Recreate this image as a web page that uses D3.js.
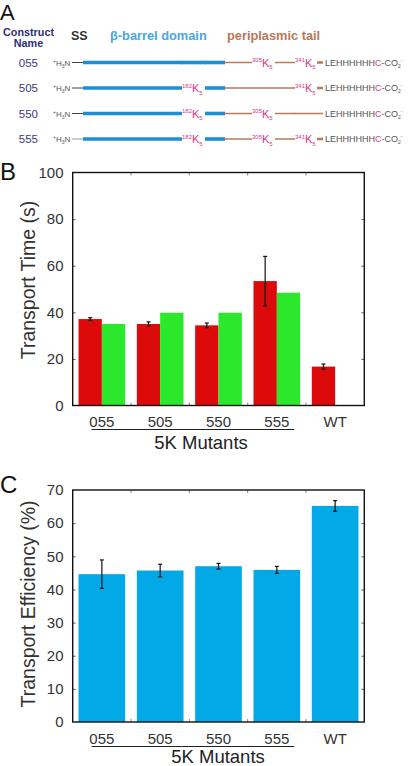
<!DOCTYPE html>
<html><head><meta charset="utf-8">
<script src="https://cdn.jsdelivr.net/npm/d3@7"></script>
<style>
html,body{margin:0;padding:0;background:#fff;}
svg{display:block;font-family:"Liberation Sans",Arial,Helvetica,sans-serif;}
</style></head>
<body>
<svg id="fig" width="408" height="766"></svg>
<script>
// ---------- DATA ----------
const constructs = ["055", "505", "550", "555"];      // digit '5' = K5 insertion at that site
const k5Sites = ["182", "305", "341"];
const tailSeq = "LEHHHHHHC";

const categories = ["055", "505", "550", "555", "WT"];
const timeRed = [37.1, 35.0, 34.4, 53.4, 16.7];
const timeRedErr = [0.6, 0.9, 1.0, 10.6, 1.1];
const timeGreen = [35.0, 39.8, 39.8, 48.4, null];
const timeTicks = [0, 20, 40, 60, 80, 100];

const efficiency = [44.6, 45.7, 47.0, 45.9, 65.2];
const efficiencyErr = [4.3, 1.9, 0.85, 1.05, 1.6];
const effTicks = [0, 10, 20, 30, 40, 50, 60, 70];

const mutantGroup = ["055", "505", "550", "555"];

// ---------- STYLE ----------
const RED = "#dc0a0a", GREEN = "#2ce82c", BLUE = "#03a9e6";
const A_BLUE = "#1d8fd8", A_BLUE_T = "#4ba6e0", BROWN = "#b9785a", PINK = "#d8378a", NAVY = "#2f2f78", GRAY = "#555";

const svg = d3.select("#fig");

// ---------- PANEL A ----------
svg.append("text").attr("x", 0).attr("y", 20).attr("font-size", 22).attr("fill", "#111").text("A");
svg.append("text").attr("x", 28.5).attr("y", 36).attr("text-anchor", "middle").attr("font-size", 10.8)
  .attr("font-weight", "bold").attr("fill", NAVY).text("Construct");
svg.append("text").attr("x", 28.5).attr("y", 47).attr("text-anchor", "middle").attr("font-size", 10.8)
  .attr("font-weight", "bold").attr("fill", NAVY).text("Name");
svg.append("text").attr("x", 71).attr("y", 40).attr("font-size", 12.5).attr("font-weight", "bold")
  .attr("fill", "#333").text("SS");
svg.append("text").attr("x", 110).attr("y", 40).attr("font-size", 12.8).attr("font-weight", "bold")
  .attr("fill", A_BLUE_T).text("β-barrel domain");
svg.append("text").attr("x", 227).attr("y", 40).attr("font-size", 12.8).attr("font-weight", "bold")
  .attr("fill", BROWN).text("periplasmic tail");

const rowY = d3.scalePoint().domain(constructs).range([62.5, 139]);
// schematic x positions (not to scale)
const sx = { start: 72, ss: 83, s182: 182, s182e: 205, tail: 225, s305: 252, s305e: 275, s341: 295, s341e: 317, end: 323, seq: 325 };
const siteStart = [sx.s182, sx.s305, sx.s341], siteEnd = [sx.s182e, sx.s305e, sx.s341e];

constructs.forEach(c => {
  const y = rowY(c);
  const g = svg.append("g");
  g.append("text").attr("x", 38).attr("y", y + 4).attr("text-anchor", "end").attr("font-size", 11.5)
    .attr("fill", "#3a3a80").text(c);
  // +H3N
  const t = g.append("text").attr("x", 53).attr("y", y + 3).attr("font-size", 8).attr("fill", GRAY);
  t.append("tspan").attr("font-size", 5).attr("dy", -3).text("+");
  t.append("tspan").attr("dy", 3).text("H");
  t.append("tspan").attr("font-size", 5).attr("dy", 2).text("3");
  t.append("tspan").attr("dy", -2).text("N");
  g.append("line").attr("x1", sx.start).attr("x2", sx.ss).attr("y1", y).attr("y2", y)
    .attr("stroke", c === "555" ? "#999" : "#444").attr("stroke-width", 1);
  // segments
  const has = c.split("").map(d => d === "5");
  const seg = (x1, x2, col, w) => g.append("line").attr("x1", x1).attr("x2", x2).attr("y1", y).attr("y2", y)
    .attr("stroke", col).attr("stroke-width", w);
  seg(sx.ss, sx.s182, A_BLUE, 3.6);
  if (!has[0]) seg(sx.s182 - 1, sx.s182e + 1, A_BLUE, 3.6);
  seg(sx.s182e, sx.tail, A_BLUE, 3.6);
  seg(sx.tail, sx.s305, BROWN, 1.5);
  if (!has[1]) seg(sx.s305 - 1, sx.s305e + 1, BROWN, 1.5);
  seg(sx.s305e, sx.s341, BROWN, 1.5);
  if (!has[2]) seg(sx.s341 - 1, sx.end, BROWN, 1.5);
  else seg(sx.s341e, sx.end, BROWN, 2.5);
  has.forEach((h, i) => {
    if (!h) return;
    const k = g.append("text").attr("x", siteStart[i]).attr("y", y + 4).attr("fill", PINK).attr("font-size", 11);
    k.append("tspan").attr("font-size", 6).attr("dy", -4.5).text(k5Sites[i]);
    k.append("tspan").attr("dy", 4.5).text("K");
    k.append("tspan").attr("font-size", 6).attr("dy", 2.5).text("5");
  });
  const s = g.append("text").attr("x", sx.seq).attr("y", y + 3.3).attr("font-size", 9).attr("fill", GRAY);
  s.append("tspan").text(tailSeq.slice(0, -1));
  s.append("tspan").attr("fill", PINK).text(tailSeq.slice(-1));
  s.append("tspan").text("-CO");
  s.append("tspan").attr("font-size", 5).attr("dy", 2).text("2");
  s.append("tspan").attr("font-size", 5).attr("dy", -6).text("-");
});

// ---------- BAR PANEL FACTORY ----------
const L = 72.7, R = 364.3;
const x = d3.scaleBand().domain(categories).range([L, R]).paddingInner(0.2).paddingOuter(0.1);

function framePanel(top, bottom, yDomain, ticks, title, titleCenter, labelBase, lineY, mutY, mutX, letter, letterY) {
  const y = d3.scaleLinear().domain(yDomain).range([bottom, top]);
  const g = svg.append("g");
  // ticks on left & right (inward)
  g.append("g").attr("transform", `translate(${L},0)`)
    .call(d3.axisRight(y).tickValues(ticks.slice(1, -1)).tickSize(3).tickFormat(""))
    .call(a => a.select(".domain").remove()).selectAll("line").attr("stroke", "#666");
  g.append("g").attr("transform", `translate(${R},0)`)
    .call(d3.axisLeft(y).tickValues(ticks.slice(1, -1)).tickSize(3).tickFormat(""))
    .call(a => a.select(".domain").remove()).selectAll("line").attr("stroke", "#666");
  // category boundary ticks top & bottom
  const bounds = categories.slice(1).map(c => x(c) - x.step() * x.paddingInner() / 2);
  g.selectAll(".bt").data(bounds).join("line").attr("x1", d => d).attr("x2", d => d)
    .attr("y1", bottom).attr("y2", bottom - 3).attr("stroke", "#888");
  g.selectAll(".tt").data(bounds).join("line").attr("x1", d => d).attr("x2", d => d)
    .attr("y1", top).attr("y2", top + 3).attr("stroke", "#888");
  // tick labels
  g.selectAll(".yl").data(ticks).join("text").attr("x", 63.5).attr("y", d => y(d) + 5.3)
    .attr("text-anchor", "end").attr("font-size", 15).attr("fill", "#333").text(d => d);
  // y title
  g.append("text").attr("transform", `translate(35,${titleCenter}) rotate(-90)`).attr("text-anchor", "middle")
    .attr("font-size", 19.5).attr("fill", "#333").text(title);
  // x labels
  g.selectAll(".xl").data(categories).join("text").attr("x", d => x(d) + x.bandwidth() / 2).attr("y", labelBase)
    .attr("text-anchor", "middle").attr("font-size", 15).attr("fill", "#333").text(d => d);
  g.append("line").attr("x1", x(mutantGroup[0]) + 13).attr("x2", x(mutantGroup[mutantGroup.length - 1]) + x.bandwidth() - 6)
    .attr("y1", lineY).attr("y2", lineY).attr("stroke", "#222").attr("stroke-width", 1.2);
  g.append("text").attr("x", mutX).attr("y", mutY).attr("text-anchor", "middle").attr("font-size", 18.5)
    .attr("fill", "#222").text("5K Mutants");
  svg.append("text").attr("x", 0).attr("y", letterY).attr("font-size", 24).attr("fill", "#111").text(letter);
  return { y, g };
}

function drawFrame(top, bottom) {
  svg.append("rect").attr("x", L).attr("y", top).attr("width", R - L).attr("height", bottom - top)
    .attr("fill", "none").attr("stroke", "#111").attr("stroke-width", 1.4);
}

function errBars(g, xs, ys, errs, y) {
  xs.forEach((xc, i) => {
    if (errs[i] == null) return;
    const y1 = y(ys[i] + errs[i]), y2 = y(ys[i] - errs[i]);
    g.append("line").attr("x1", xc).attr("x2", xc).attr("y1", y1).attr("y2", y2).attr("stroke", "#111").attr("stroke-width", 1.2);
    [y1, y2].forEach(yy => g.append("line").attr("x1", xc - 2).attr("x2", xc + 2).attr("y1", yy).attr("y2", yy)
      .attr("stroke", "#111").attr("stroke-width", 1.2));
  });
}

// ---------- PANEL B ----------
{
  const top = 172.5, bottom = 405.5;
  const { y, g } = framePanel(top, bottom, [0, 100], timeTicks, "Transport Time (s)", 280, 427, 429.5, 449, 201, "B", 180);
  const sub = d3.scaleBand().domain(["red", "green"]).range([0, x.bandwidth()]);
  const bars = svg.append("g");
  bars.selectAll(".r").data(categories).join("rect").attr("x", d => x(d) + sub("red")).attr("width", sub.bandwidth())
    .attr("y", (d, i) => y(timeRed[i])).attr("height", (d, i) => bottom - y(timeRed[i])).attr("fill", RED);
  bars.selectAll(".gr").data(categories.filter((d, i) => timeGreen[i] != null)).join("rect")
    .attr("x", d => x(d) + sub("green")).attr("width", sub.bandwidth())
    .attr("y", d => y(timeGreen[categories.indexOf(d)])).attr("height", d => bottom - y(timeGreen[categories.indexOf(d)]))
    .attr("fill", GREEN);
  errBars(bars, categories.map(d => x(d) + sub("red") + sub.bandwidth() / 2), timeRed, timeRedErr, y);
  drawFrame(top, bottom);
}

// ---------- PANEL C ----------
{
  const top = 490, bottom = 722;
  const { y, g } = framePanel(top, bottom, [0, 70], effTicks, "Transport Efficiency (%)", 604, 744, 746.5, 763, 218, "C", 493);
  const bars = svg.append("g");
  bars.selectAll(".b").data(categories).join("rect").attr("x", d => x(d)).attr("width", x.bandwidth())
    .attr("y", (d, i) => y(efficiency[i])).attr("height", (d, i) => bottom - y(efficiency[i])).attr("fill", BLUE);
  errBars(bars, categories.map(d => x(d) + x.bandwidth() / 2), efficiency, efficiencyErr, y);
  drawFrame(top, bottom);
}
</script>
</body></html>
